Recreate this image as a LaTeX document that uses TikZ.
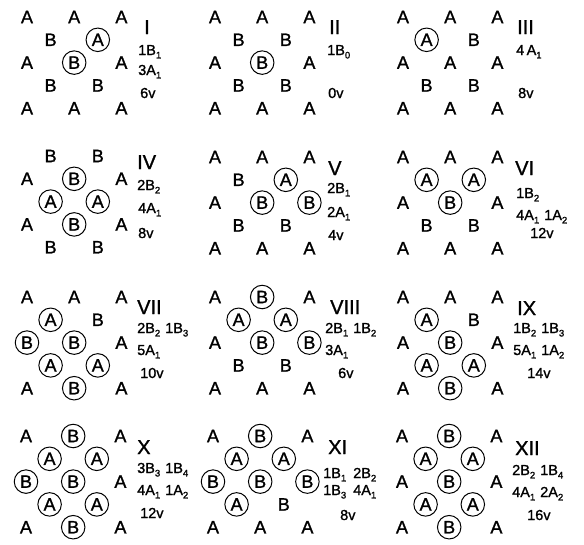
\documentclass[tikz,border=0pt]{standalone}
\usepackage{fontspec}
\setmainfont{Liberation Sans}[BoldFont={Liberation Sans},BoldFeatures={FakeBold=1.2}]
\newcommand\sbs[1]{\raisebox{-0.45ex}{\fontsize{9.5}{9.5}\selectfont #1}}
\tikzset{
  lt/.style={inner sep=0pt, font=\fontsize{18}{18}\selectfont\bfseries},
  cl/.style={lt, draw, circle, minimum size=23.5pt, line width=1pt},
  numl/.style={anchor=base west, inner sep=0pt, font=\fontsize{20}{20}\selectfont\bfseries},
  lbl/.style={anchor=base west, inner sep=0pt, font=\fontsize{14.5}{14.5}\selectfont\bfseries},
}
\newcommand\mypanel[4]{%
  \foreach \c/\r/\L/\s in {#4} {
    \node[\s] (#1-\c-\r) at ({#2+\c*23.6},{#3+\r*22.8}) {\L};
  }}
\begin{document}
\begin{tikzpicture}[x=1pt,y=-1pt]
\useasboundingbox (0,0) rectangle (584,544);
% Row 1
\mypanel{p1}{27}{17}{0/0/A/lt,2/0/A/lt,4/0/A/lt,1/1/B/lt,3/1/A/cl,0/2/A/lt,2/2/B/cl,4/2/A/lt,1/3/B/lt,3/3/B/lt,0/4/A/lt,2/4/A/lt,4/4/A/lt}
\mypanel{p2}{215}{17}{0/0/A/lt,2/0/A/lt,4/0/A/lt,1/1/B/lt,3/1/B/lt,0/2/A/lt,2/2/B/cl,4/2/A/lt,1/3/B/lt,3/3/B/lt,0/4/A/lt,2/4/A/lt,4/4/A/lt}
\mypanel{p3}{403}{17}{0/0/A/lt,2/0/A/lt,4/0/A/lt,1/1/A/cl,3/1/B/lt,0/2/A/lt,2/2/A/lt,4/2/A/lt,1/3/B/lt,3/3/B/lt,0/4/A/lt,2/4/A/lt,4/4/A/lt}
% Row 2
\mypanel{p4}{27}{156}{1/0/B/lt,3/0/B/lt,0/1/A/lt,2/1/B/cl,4/1/A/lt,1/2/A/cl,3/2/A/cl,0/3/A/lt,2/3/B/cl,4/3/A/lt,1/4/B/lt,3/4/B/lt}
\mypanel{p5}{215}{157}{0/0/A/lt,2/0/A/lt,4/0/A/lt,1/1/B/lt,3/1/A/cl,0/2/A/lt,2/2/B/cl,4/2/B/cl,1/3/B/lt,3/3/B/lt,0/4/A/lt,2/4/A/lt,4/4/A/lt}
\mypanel{p6}{403}{157}{0/0/A/lt,2/0/A/lt,4/0/A/lt,1/1/A/cl,3/1/A/cl,0/2/A/lt,2/2/B/cl,4/2/A/lt,1/3/B/lt,3/3/B/lt,0/4/A/lt,2/4/A/lt,4/4/A/lt}
% Row 3
\mypanel{p7}{27}{297}{0/0/A/lt,2/0/A/lt,4/0/A/lt,1/1/A/cl,3/1/B/lt,0/2/B/cl,2/2/B/cl,4/2/A/lt,1/3/A/cl,3/3/A/cl,0/4/A/lt,2/4/B/cl,4/4/A/lt}
\mypanel{p8}{215}{297}{0/0/A/lt,2/0/B/cl,4/0/A/lt,1/1/A/cl,3/1/A/cl,0/2/A/lt,2/2/B/cl,4/2/B/cl,1/3/B/lt,3/3/B/lt,0/4/A/lt,2/4/A/lt,4/4/A/lt}
\mypanel{p9}{403}{297}{0/0/A/lt,2/0/A/lt,4/0/A/lt,1/1/A/cl,3/1/B/lt,0/2/A/lt,2/2/B/cl,4/2/A/lt,1/3/A/cl,3/3/A/cl,0/4/A/lt,2/4/B/cl,4/4/A/lt}
% Row 4
\mypanel{p10}{26}{436}{0/0/A/lt,2/0/B/cl,4/0/A/lt,1/1/A/cl,3/1/A/cl,0/2/B/cl,2/2/B/cl,4/2/A/lt,1/3/A/cl,3/3/A/cl,0/4/A/lt,2/4/B/cl,4/4/A/lt}
\mypanel{p11}{213}{436}{0/0/A/lt,2/0/B/cl,4/0/A/lt,1/1/A/cl,3/1/A/cl,0/2/B/cl,2/2/B/cl,4/2/B/cl,1/3/A/cl,3/3/B/lt,0/4/A/lt,2/4/A/lt,4/4/A/lt}
\mypanel{p12}{402}{436}{0/0/A/lt,2/0/B/cl,4/0/A/lt,1/1/A/cl,3/1/A/cl,0/2/A/lt,2/2/B/cl,4/2/A/lt,1/3/A/cl,3/3/A/cl,0/4/A/lt,2/4/B/cl,4/4/A/lt}
% Labels
\node[numl] (n1) at (144,34) {I};
\node[lbl] (l1a) at (138,55) {1B\sbs{1}};
\node[lbl] (l1b) at (138,75) {3A\sbs{1}};
\node[lbl] (l1c) at (140,98) {6v};
\node[numl] (n2) at (329,34) {II};
\node[lbl] (l2a) at (327,55) {1B\sbs{0}};
\node[lbl] (l2c) at (328,98) {0v};
\node[numl] (n3) at (517,34) {III};
\node[lbl] (l3a) at (516,55) {4\,A\sbs{1}};
\node[lbl] (l3c) at (518,98) {8v};
\node[numl] (n4) at (137,169) {IV};
\node[lbl] (l4a) at (137,190) {2B\sbs{2}};
\node[lbl] (l4b) at (138,213) {4A\sbs{1}};
\node[lbl] (l4c) at (138,238) {8v};
\node[numl] (n5) at (328,175) {V};
\node[lbl] (l5a) at (327,193) {2B\sbs{1}};
\node[lbl] (l5b) at (327,217) {2A\sbs{1}};
\node[lbl] (l5c) at (328,240) {4v};
\node[numl] (n6) at (515,175) {VI};
\node[lbl] (l6a) at (516,198) {1B\sbs{2}};
\node[lbl] (l6b) at (516,220) {4A\sbs{1}\hspace{5pt}1A\sbs{2}};
\node[lbl] (l6c) at (530,238) {12v};
\node[numl] (n7) at (137,314) {VII};
\node[lbl] (l7a) at (137,333) {2B\sbs{2}\hspace{5pt}1B\sbs{3}};
\node[lbl] (l7b) at (137,355) {5A\sbs{1}};
\node[lbl] (l7c) at (140,378) {10v};
\node[numl] (n8) at (330,314) {VIII};
\node[lbl] (l8a) at (325,333) {2B\sbs{1}\hspace{5pt}1B\sbs{2}};
\node[lbl] (l8b) at (325,355) {3A\sbs{1}};
\node[lbl] (l8c) at (338,378) {6v};
\node[numl] (n9) at (517,315) {IX};
\node[lbl] (l9a) at (513,333) {1B\sbs{2}\hspace{5pt}1B\sbs{3}};
\node[lbl] (l9b) at (513,355) {5A\sbs{1}\hspace{5pt}1A\sbs{2}};
\node[lbl] (l9c) at (527,378) {14v};
\node[numl] (n10) at (137,454) {X};
\node[lbl] (l10a) at (137,473) {3B\sbs{3}\hspace{5pt}1B\sbs{4}};
\node[lbl] (l10b) at (137,495) {4A\sbs{1}\hspace{5pt}1A\sbs{2}};
\node[lbl] (l10c) at (140,518) {12v};
\node[numl] (n11) at (328,454) {XI};
\node[lbl] (l11a) at (323,478) {1B\sbs{1}\hspace{7pt}2B\sbs{2}};
\node[lbl] (l11b) at (323,495) {1B\sbs{3}\hspace{7pt}4A\sbs{1}};
\node[lbl] (l11c) at (340,520) {8v};
\node[numl] (n12) at (515,455) {XII};
\node[lbl] (l12a) at (512,475) {2B\sbs{2}\hspace{5pt}1B\sbs{4}};
\node[lbl] (l12b) at (512,497) {4A\sbs{1}\hspace{5pt}2A\sbs{2}};
\node[lbl] (l12c) at (527,520) {16v};
\end{tikzpicture}
\end{document}
